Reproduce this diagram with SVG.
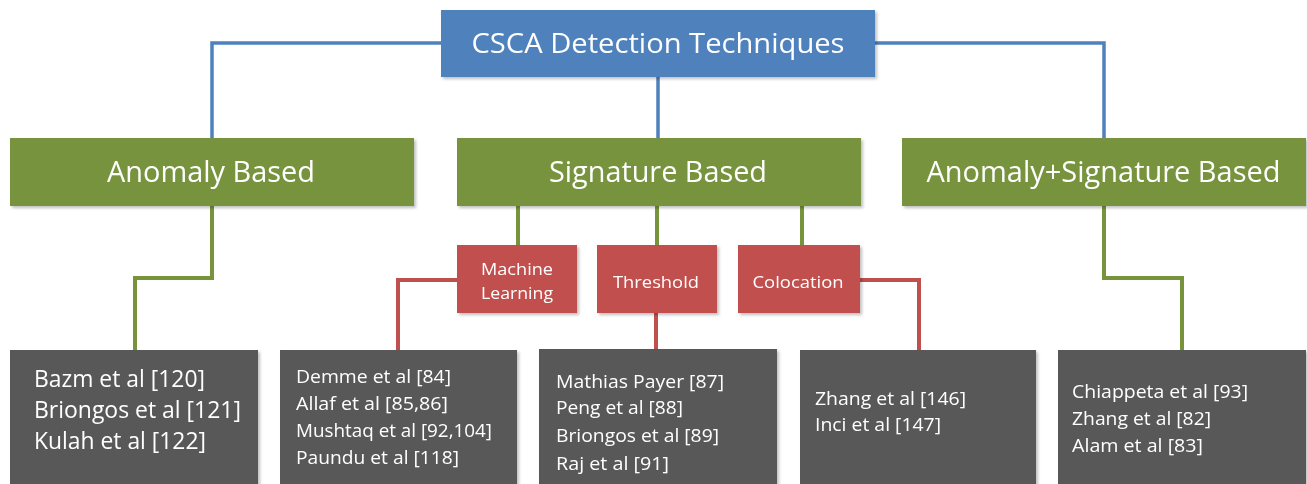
<svg xmlns="http://www.w3.org/2000/svg" width="1307" height="484" viewBox="0 0 1307 484">
<style>
text{font-family:"Open Sans","Liberation Sans",sans-serif;fill:#fff}
.blue{fill:#4F81BD}
.green{fill:#77933C}
.red{fill:#C0504D}
.gray{fill:#595959}
.lb{fill:none;stroke:#4F81BD;stroke-width:3.5}
.lg{fill:none;stroke:#77933C;stroke-width:4}
.lr{fill:none;stroke:#C0504D;stroke-width:4}
.t1{font-size:28px}
.t2{font-size:30px}
.t3{font-size:17px}
.t4{font-size:23px}
.t5{font-size:18.5px}
</style>
<defs>
<filter id="sh" x="-5%" y="-5%" width="115%" height="125%">
<feDropShadow dx="2" dy="2" stdDeviation="1.5" flood-color="#000" flood-opacity="0.25"/>
</filter>
</defs>
<rect width="1307" height="484" fill="#fff"/>
<g id="connectors">
<path class="lb" d="M441 43 H212 V138"/>
<path class="lb" d="M875 43 H1104 V138"/>
<path class="lb" d="M658 77 V138"/>
<path class="lg" d="M212 206 V278 H135 V350"/>
<path class="lg" d="M518 206 V245"/>
<path class="lg" d="M657 206 V245"/>
<path class="lg" d="M802 206 V245"/>
<path class="lg" d="M1104 206 V278 H1182 V350"/>
<path class="lr" d="M457 280 H398 V350"/>
<path class="lr" d="M656 313 V350"/>
<path class="lr" d="M860 280 H919 V350"/>
</g>
<g id="root" filter="url(#sh)">
<rect class="blue" x="441" y="10" width="434" height="67"/>
<text class="t1" x="658" y="53" text-anchor="middle" textLength="373" lengthAdjust="spacingAndGlyphs">CSCA Detection Techniques</text>
</g>
<g id="anomaly" filter="url(#sh)">
<rect class="green" x="10" y="138" width="404" height="68"/>
<text class="t2" x="211" y="182" text-anchor="middle" textLength="208" lengthAdjust="spacingAndGlyphs">Anomaly Based</text>
</g>
<g id="signature" filter="url(#sh)">
<rect class="green" x="457" y="138" width="404" height="68"/>
<text class="t2" x="658" y="182" text-anchor="middle" textLength="218" lengthAdjust="spacingAndGlyphs">Signature Based</text>
</g>
<g id="hybrid" filter="url(#sh)">
<rect class="green" x="902" y="138" width="404" height="68"/>
<text class="t2" x="1103.5" y="182" text-anchor="middle" textLength="354" lengthAdjust="spacingAndGlyphs">Anomaly+Signature Based</text>
</g>
<g id="ml" filter="url(#sh)">
<rect class="red" x="457" y="245" width="120" height="68"/>
<text class="t3" x="517" y="275" text-anchor="middle" textLength="72" lengthAdjust="spacingAndGlyphs">Machine</text>
<text class="t3" x="517" y="299" text-anchor="middle" textLength="72" lengthAdjust="spacingAndGlyphs">Learning</text>
</g>
<g id="threshold" filter="url(#sh)">
<rect class="red" x="597" y="245" width="120" height="68"/>
<text class="t3" x="656" y="288" text-anchor="middle" textLength="86" lengthAdjust="spacingAndGlyphs">Threshold</text>
</g>
<g id="colocation" filter="url(#sh)">
<rect class="red" x="738" y="245" width="122" height="68"/>
<text class="t3" x="798" y="288" text-anchor="middle" textLength="91" lengthAdjust="spacingAndGlyphs">Colocation</text>
</g>
<g id="box-anomaly" filter="url(#sh)">
<rect class="gray" x="10" y="350" width="248" height="140"/>
<text class="t4" x="34" y="387" textLength="171" lengthAdjust="spacingAndGlyphs">Bazm et al [120]</text>
<text class="t4" x="34" y="418" textLength="207" lengthAdjust="spacingAndGlyphs">Briongos et al [121]</text>
<text class="t4" x="34" y="449" textLength="172" lengthAdjust="spacingAndGlyphs">Kulah et al [122]</text>
</g>
<g id="box-ml" filter="url(#sh)">
<rect class="gray" x="280" y="350" width="237" height="140"/>
<text class="t5" x="296" y="383" textLength="155" lengthAdjust="spacingAndGlyphs">Demme et al [84]</text>
<text class="t5" x="296" y="410" textLength="152" lengthAdjust="spacingAndGlyphs">Allaf et al [85,86]</text>
<text class="t5" x="296" y="437" textLength="196" lengthAdjust="spacingAndGlyphs">Mushtaq et al [92,104]</text>
<text class="t5" x="296" y="464" textLength="163" lengthAdjust="spacingAndGlyphs">Paundu et al [118]</text>
</g>
<g id="box-threshold" filter="url(#sh)">
<rect class="gray" x="539" y="349" width="238" height="140"/>
<text class="t5" x="556" y="388" textLength="168" lengthAdjust="spacingAndGlyphs">Mathias Payer [87]</text>
<text class="t5" x="556" y="414" textLength="127" lengthAdjust="spacingAndGlyphs">Peng et al [88]</text>
<text class="t5" x="556" y="442" textLength="163" lengthAdjust="spacingAndGlyphs">Briongos et al [89]</text>
<text class="t5" x="556" y="470" textLength="113" lengthAdjust="spacingAndGlyphs">Raj et al [91]</text>
</g>
<g id="box-colocation" filter="url(#sh)">
<rect class="gray" x="800" y="350" width="236" height="140"/>
<text class="t5" x="815" y="405" textLength="151" lengthAdjust="spacingAndGlyphs">Zhang et al [146]</text>
<text class="t5" x="815" y="431" textLength="126" lengthAdjust="spacingAndGlyphs">Inci et al [147]</text>
</g>
<g id="box-hybrid" filter="url(#sh)">
<rect class="gray" x="1058" y="350" width="248" height="140"/>
<text class="t5" x="1072" y="398" textLength="176" lengthAdjust="spacingAndGlyphs">Chiappeta et al [93]</text>
<text class="t5" x="1072" y="425" textLength="139" lengthAdjust="spacingAndGlyphs">Zhang et al [82]</text>
<text class="t5" x="1072" y="452" textLength="131" lengthAdjust="spacingAndGlyphs">Alam et al [83]</text>
</g>
</svg>
